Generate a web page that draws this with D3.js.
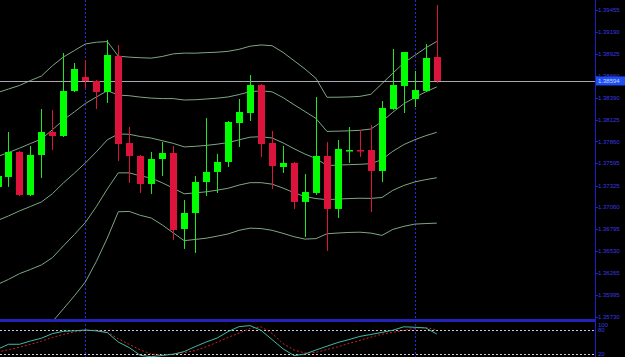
<!DOCTYPE html>
<html>
<head>
<meta charset="utf-8">
<script src="https://cdn.jsdelivr.net/npm/d3@7"></script>
<style>
  html, body { margin: 0; padding: 0; background: #000; }
  svg { display: block; }
  text { font-family: "Liberation Sans", "DejaVu Sans", sans-serif; }
</style>
</head>
<body>
<svg id="chart" width="625" height="357"></svg>
<script>
// candles (oldest first)
var openP = [1.37308,1.37429,1.37732,1.37211,1.37696,1.37975,1.37926,1.38472,1.38642,1.38594,1.38460,1.38897,1.37841,1.37684,1.37344,1.37647,1.37720,1.36798,1.36992,1.37368,1.37490,1.37611,1.38084,1.38205,1.38545,1.37841,1.37550,1.37599,1.37126,1.37235,1.37684,1.37041,1.37744,1.37756,1.37756,1.37502,1.38254,1.38533,1.38375,1.38472,1.38885];
var highP = [1.37514,1.37975,1.37744,1.37805,1.38254,1.38242,1.38933,1.38812,1.38848,1.38606,1.39091,1.39030,1.38035,1.37696,1.37732,1.37853,1.37805,1.37150,1.37441,1.38145,1.37708,1.38108,1.38375,1.38666,1.38557,1.37987,1.37805,1.37611,1.37465,1.38399,1.37853,1.37878,1.38035,1.37999,1.38060,1.38351,1.38982,1.38945,1.38715,1.39042,1.39515];
var lowP = [1.37247,1.37308,1.37198,1.37198,1.37417,1.37756,1.37914,1.38460,1.38509,1.38254,1.38327,1.37623,1.37356,1.37235,1.37223,1.37441,1.36665,1.36556,1.36507,1.37198,1.37235,1.37550,1.37793,1.38108,1.37672,1.37283,1.37478,1.37041,1.36701,1.37211,1.36532,1.36932,1.37599,1.37672,1.37004,1.37368,1.38242,1.38205,1.38278,1.38460,1.38569];
var closeP = [1.37441,1.37732,1.37211,1.37696,1.37975,1.37926,1.38472,1.38739,1.38594,1.38460,1.38909,1.37829,1.37684,1.37344,1.37647,1.37720,1.36786,1.36992,1.37368,1.37490,1.37611,1.38096,1.38217,1.38545,1.37829,1.37562,1.37599,1.37126,1.37247,1.37684,1.37041,1.37769,1.37756,1.37744,1.37502,1.38266,1.38545,1.38945,1.38484,1.38873,1.38594];

// bollinger middle line and one deviation (bands at 1 and 2 dev)
var bbMid = [1.36901,1.36956,1.37017,1.37071,1.37126,1.37226,1.37357,1.37475,1.37599,1.37734,1.37880,1.37951,1.37947,1.37920,1.37901,1.37869,1.37837,1.37794,1.37801,1.37812,1.37827,1.37846,1.37880,1.37912,1.37917,1.37902,1.37843,1.37772,1.37707,1.37653,1.37568,1.37573,1.37578,1.37583,1.37590,1.37640,1.37741,1.37822,1.37881,1.37930,1.37971];
var bbDev = [0.00776,0.00770,0.00761,0.00764,0.00764,0.00776,0.00764,0.00744,0.00722,0.00665,0.00596,0.00472,0.00468,0.00478,0.00485,0.00511,0.00543,0.00569,0.00565,0.00563,0.00558,0.00554,0.00549,0.00552,0.00557,0.00560,0.00549,0.00534,0.00516,0.00486,0.00414,0.00412,0.00411,0.00412,0.00421,0.00460,0.00474,0.00496,0.00512,0.00533,0.00551];
var bbMult = [-2, -1, 0, 1, 2];

// stochastic
var stochK = [31.8,44.3,44.3,52.5,59.5,71,76.7,78,80,77.8,73.5,50,36,16.7,13.3,16.3,19.5,26,38.5,50,60,76,88.5,91,79,56,33,16,20,30,39.5,48.8,56,64,68.8,74,79.5,88,86.8,85,70];
var stochD = [25,30.8,36.8,44,52,61.3,69,75.3,78.8,79.8,74.8,58,44,30.3,19.8,18,19.8,23.5,28.5,38,49.3,61.5,72.3,84,87.8,71.5,46,30,22.5,24,31.3,38,46.5,54,62,69.5,74.3,79,84.5,86.3,80.5];
var stochLevels = [80, 20];

var priceTicks = ["1.39455","1.39190","1.38925","1.38660","1.38390","1.38125","1.37860","1.37595","1.37325","1.37060","1.36795","1.36530","1.36265","1.35995","1.35730"];
var separators = [8, 38]; // period separator bars

var svg = d3.select("#chart");
var W = 625, H = 357, axisX = 595;
var mainBottom = 319, subTop = 322;

var x = d3.scaleLinear().domain([0, 40]).range([-2.5, 436.8]);
var y = d3.scaleLinear().domain([1.35730, 1.39455]).range([317, 10]);
var ys = d3.scaleLinear().domain([0, 100]).range([362, 322]);

svg.append("rect").attr("width", W).attr("height", H).attr("fill", "#000");

var defs = svg.append("defs");
defs.append("clipPath").attr("id", "clipMain")
  .append("rect").attr("x", 0).attr("y", 0).attr("width", axisX).attr("height", mainBottom);
defs.append("clipPath").attr("id", "clipSub")
  .append("rect").attr("x", 0).attr("y", subTop).attr("width", axisX).attr("height", H - subTop);

// period separators
svg.selectAll(".sep").data(separators).enter().append("line")
  .attr("x1", function(d) { return Math.round(x(d)) + 0.5; })
  .attr("x2", function(d) { return Math.round(x(d)) + 0.5; })
  .attr("y1", 0).attr("y2", H)
  .attr("stroke", "#2a2ad8").attr("stroke-width", 1)
  .attr("stroke-dasharray", "2,2");

var main = svg.append("g").attr("clip-path", "url(#clipMain)");

// bollinger lines
var idx = d3.range(bbMid.length);
bbMult.forEach(function(m) {
  var line = d3.line()
    .x(function(i) { return x(i); })
    .y(function(i) { return y(bbMid[i] + m * bbDev[i]); });
  main.append("path").datum(idx)
    .attr("d", line)
    .attr("fill", "none")
    .attr("stroke", "#7fa683")
    .attr("stroke-width", 1);
});

// bid line
var bid = closeP[closeP.length - 1];
main.append("line")
  .attr("x1", 0).attr("x2", axisX)
  .attr("y1", Math.round(y(bid)) + 0.5).attr("y2", Math.round(y(bid)) + 0.5)
  .attr("stroke", "#a8a8b0").attr("stroke-width", 1);

// candles
var bodyW = 7;
var candles = main.selectAll(".candle").data(idx).enter().append("g");
candles.append("line")
  .attr("x1", function(i) { return Math.round(x(i)) + 0.5; })
  .attr("x2", function(i) { return Math.round(x(i)) + 0.5; })
  .attr("y1", function(i) { return y(highP[i]); })
  .attr("y2", function(i) { return y(lowP[i]); })
  .attr("stroke", function(i) { return closeP[i] >= openP[i] ? "#22e622" : "#dc143c"; })
  .attr("stroke-width", 1);
candles.append("rect")
  .attr("x", function(i) { return Math.round(x(i)) - 3; })
  .attr("width", bodyW)
  .attr("y", function(i) { return y(Math.max(openP[i], closeP[i])); })
  .attr("height", function(i) { return Math.max(1.5, Math.abs(y(openP[i]) - y(closeP[i]))); })
  .attr("fill", function(i) { return closeP[i] >= openP[i] ? "#00ff00" : "#dc143c"; });

// separator between main and stochastic window
svg.append("rect")
  .attr("x", 0).attr("y", mainBottom).attr("width", axisX).attr("height", 3)
  .attr("fill", "#2222b8");

// stochastic window
var sub = svg.append("g").attr("clip-path", "url(#clipSub)");
sub.selectAll(".lvl").data(stochLevels).enter().append("line")
  .attr("x1", 0).attr("x2", axisX)
  .attr("y1", function(d) { return Math.round(ys(d)) + 0.5; })
  .attr("y2", function(d) { return Math.round(ys(d)) + 0.5; })
  .attr("stroke", "#d0d0d0").attr("stroke-width", 1)
  .attr("stroke-dasharray", "2,2");

var kLine = d3.line().x(function(i) { return x(i); }).y(function(i) { return ys(stochK[i]); });
var dLine = d3.line().x(function(i) { return x(i); }).y(function(i) { return ys(stochD[i]); });
sub.append("path").datum(idx).attr("d", dLine)
  .attr("fill", "none").attr("stroke", "#d02020").attr("stroke-width", 1)
  .attr("stroke-dasharray", "2,2");
sub.append("path").datum(idx).attr("d", kLine)
  .attr("fill", "none").attr("stroke", "#3fb8a8").attr("stroke-width", 1);

// right price axis
svg.append("line")
  .attr("x1", axisX + 0.5).attr("x2", axisX + 0.5)
  .attr("y1", 0).attr("y2", H)
  .attr("stroke", "#2020c8").attr("stroke-width", 1);

var ticks = svg.selectAll(".ptick").data(priceTicks).enter().append("g");
ticks.append("line")
  .attr("x1", axisX).attr("x2", axisX + 3)
  .attr("y1", function(d) { return Math.round(y(+d)) + 0.5; })
  .attr("y2", function(d) { return Math.round(y(+d)) + 0.5; })
  .attr("stroke", "#2020c8");
ticks.append("text")
  .attr("x", axisX + 3)
  .attr("y", function(d) { return y(+d); })
  .attr("dy", "0.35em")
  .attr("font-size", "6px")
  .attr("fill", "#3a3ae0")
  .text(function(d) { return d; });

// bid price label
svg.append("rect")
  .attr("x", axisX + 1).attr("y", y(bid) - 4.5)
  .attr("width", W - axisX - 1).attr("height", 9)
  .attr("fill", "#1f4ff2");
svg.append("text")
  .attr("x", axisX + 3).attr("y", y(bid)).attr("dy", "0.35em")
  .attr("font-size", "6px").attr("fill", "#c8d8ff")
  .text(d3.format(".5f")(bid));

// stochastic labels
svg.append("text").attr("x", axisX + 3).attr("y", ys(100) + 3).attr("dy", "0.35em")
  .attr("font-size", "6px").attr("fill", "#3a3ae0").text("100");
svg.selectAll(".slab").data(stochLevels).enter().append("text")
  .attr("x", axisX + 3).attr("y", function(d) { return ys(d); }).attr("dy", "0.35em")
  .attr("font-size", "6px").attr("fill", "#3a3ae0")
  .text(function(d) { return d; });
</script>
</body>
</html>
